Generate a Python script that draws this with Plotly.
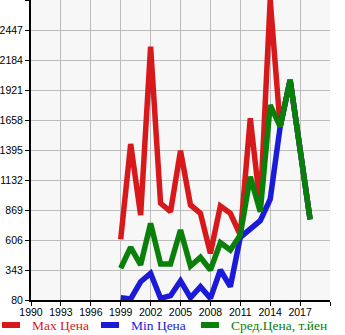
import plotly.graph_objects as go

# Price history by model year
years_max = [1999, 2000, 2001, 2002, 2003, 2004, 2005, 2006, 2007, 2008, 2009, 2010,
             2011, 2012, 2013, 2014, 2015, 2016, 2018]
max_price = [612, 1448, 825, 2301, 928, 854, 1389, 913, 840, 489, 904, 840,
             650, 1673, 900, 2710, 1600, 2009, 787]

years_min = [1999, 2000, 2001, 2002, 2003, 2004, 2005, 2006, 2007, 2008, 2009, 2010,
             2011, 2012, 2013, 2014, 2015, 2016, 2018]
min_price = [100, 89, 240, 314, 95, 118, 247, 100, 197, 95, 343, 197,
             630, 700, 775, 963, 1600, 2009, 787]

years_avg = [1999, 2000, 2001, 2002, 2003, 2004, 2005, 2006, 2007, 2008, 2009, 2010,
             2011, 2012, 2013, 2014, 2015, 2016, 2018]
avg_price = [358, 542, 387, 752, 396, 396, 694, 378, 454, 343, 582, 518,
             650, 1161, 854, 1789, 1600, 2009, 787]

series_names = ["Max Цена", "Min Цена", "Сред.Цена, т.йен"]
series_colors = ["#d7191c", "#1a1ad8", "#0a800a"]

x_ticks = [1990, 1993, 1996, 1999, 2002, 2005, 2008, 2011, 2014, 2017, 2020]
x_labels = ["1990", "1993", "1996", "1999", "2002", "2005", "2008", "2011", "2014", "2017", ""]
y_ticks = [80, 343, 606, 869, 1132, 1395, 1658, 1921, 2184, 2447, 2710]
y_labels = ["80", "343", "606", "869", "1132", "1395", "1658", "1921", "2184", "2447", ""]

fig = go.Figure()
for xs, ys, name, color in zip([years_max, years_min, years_avg],
                               [max_price, min_price, avg_price],
                               series_names, series_colors):
    fig.add_trace(go.Scatter(x=xs, y=ys, mode="lines", name=name,
                             line=dict(color=color, width=5.5),
                             showlegend=False, hoverinfo="skip"))

# Legend row below the axis: key line + coloured label per series
left_px, plot_w, plot_h = 31, 299, 300
key_starts = [0, 99, 199]
legend_y = 1 - 325 / plot_h
for start, name, color in zip(key_starts, series_names, series_colors):
    x0 = (start + 2 - left_px) / plot_w
    x1 = (start + 20 - left_px) / plot_w
    fig.add_shape(type="line", xref="paper", yref="paper", x0=x0, x1=x1,
                  y0=legend_y, y1=legend_y, line=dict(color=color, width=6))
    fig.add_annotation(xref="paper", yref="paper", x=(start + 30 - left_px) / plot_w,
                       y=legend_y, text=name, showarrow=False, xanchor="left",
                       yanchor="middle",
                       font=dict(family="Liberation Serif", size=13.5, color=color))

fig.update_layout(
    width=345, height=335,
    margin=dict(l=31, r=15, t=0, b=35),
    paper_bgcolor="white",
    plot_bgcolor="#f7f7f7",
    font=dict(family="Liberation Sans", size=10.5, color="black"),
)
fig.update_xaxes(range=[1990, 2020], tickvals=x_ticks, ticktext=x_labels,
                 showgrid=True, gridcolor="#bdbdbd", gridwidth=1,
                 showline=True, linecolor="black", linewidth=2,
                 ticks="outside", ticklen=4, tickcolor="black", zeroline=False,
                 ticklabelstandoff=-3)
fig.update_yaxes(range=[80, 2710], tickvals=y_ticks, ticktext=y_labels,
                 showgrid=True, gridcolor="#bdbdbd", gridwidth=1,
                 showline=True, linecolor="black", linewidth=2,
                 ticks="outside", ticklen=4, tickcolor="black", zeroline=False)

fig.write_html("out.html")
